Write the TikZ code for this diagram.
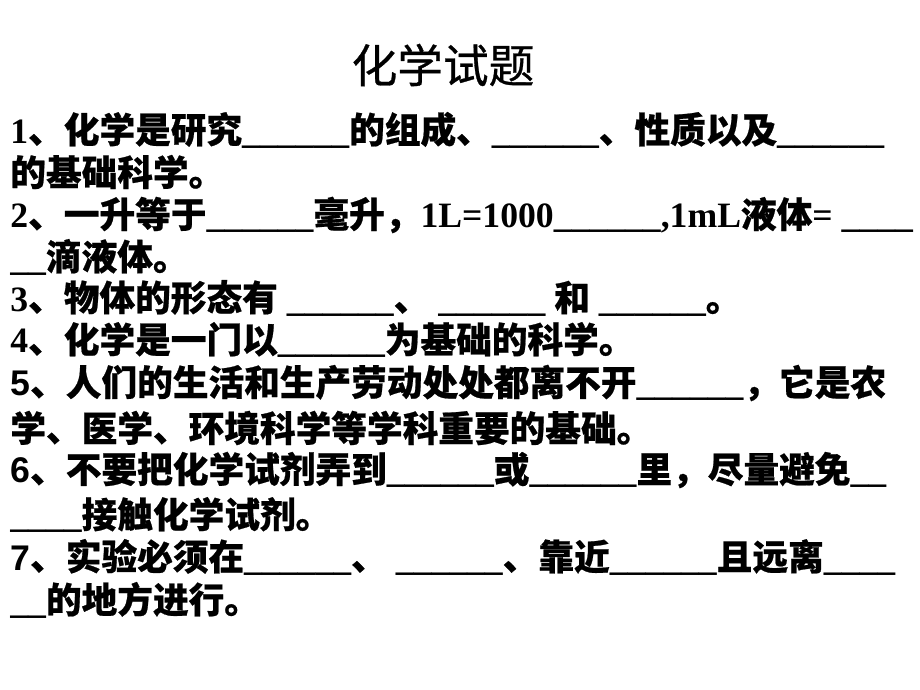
\documentclass[tikz,border=0pt]{standalone}
\usepackage{fontspec}
\setmainfont{Liberation Serif}
\newfontfamily\cjk[FakeBold=0.6]{Noto Sans CJK SC}
\newfontfamily\arl{Liberation Sans}
\newcommand\zh[1]{{\cjk #1}}
\newcommand\bl{\_\_\_\_\_\_}
\begin{document}
\begin{tikzpicture}[x=0.02cm,y=-0.02cm,
  row/.style={anchor=west,inner sep=0pt,font=\fontsize{20.3}{24}\selectfont\bfseries}]
\useasboundingbox (0,0) rectangle (920,690);
\node[inner sep=0pt,font=\fontsize{26}{30}\selectfont] (title) at (443,65) {\zh{化学试题}};
% question rows
\node[row] (l1) at (10,130) {1\zh{、化学是研究}\bl\zh{的组成、}\bl\zh{、性质以及}\bl};
\node[row] (l2) at (10,172) {\zh{的基础科学。}};
\node[row] (l3) at (10,215) {2\zh{、一升等于}\bl\zh{毫升，}1L=1000\bl,1mL\zh{液体}= \_\_\_\_};
\node[row] (l4) at (10,257) {\_\_\zh{滴液体。}};
\node[row] (l5) at (10,298) {3\zh{、物体的形态有} \bl\zh{、} \bl\ \zh{和} \bl\zh{。}};
\node[row] (l6) at (10,340) {4\zh{、化学是一门以}\bl\zh{为基础的科学。}};
\node[row] (l7) at (10,383) {{\arl 5}\zh{、人们的生活和生产劳动处处都离不开}\bl\zh{，它是农}};
\node[row] (l8) at (10,428) {\zh{学、医学、环境科学等学科重要的基础。}};
\node[row] (l9) at (10,470) {{\arl 6}\zh{、不要把化学试剂弄到}\bl\zh{或}\bl\zh{里，尽量避免}\_\_};
\node[row] (l10) at (10,515) {\_\_\_\_\zh{接触化学试剂。}};
\node[row] (l11) at (10,557) {{\arl 7}\zh{、实验必须在}\bl\zh{、} \bl\zh{、靠近}\bl\zh{且远离}\_\_\_\_};
\node[row] (l12) at (10,600) {\_\_\zh{的地方进行。}};
\end{tikzpicture}
\end{document}
